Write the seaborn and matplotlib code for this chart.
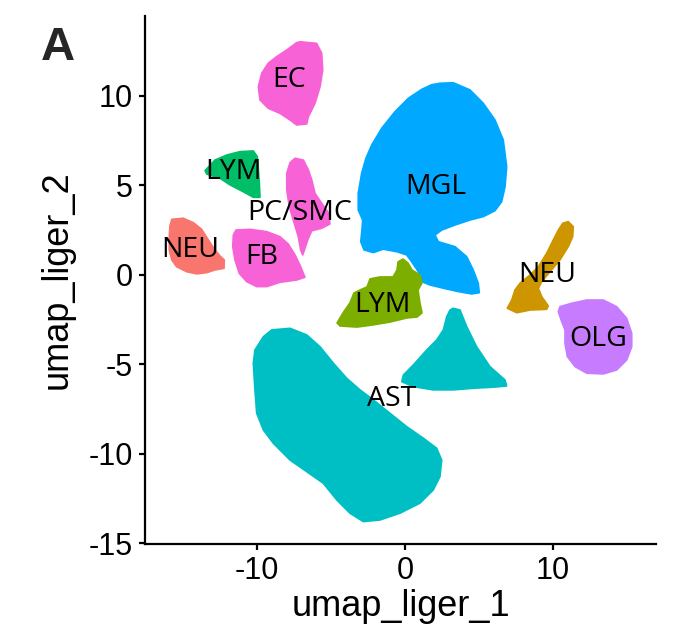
import matplotlib
matplotlib.use("Agg")
import matplotlib.pyplot as plt
import seaborn as sns

# Cluster outlines (umap_liger_1, umap_liger_2)
EC = [(-7.09, 13.03), (-5.97, 12.94), (-5.63, 12.39), (-5.56, 11.45), (-5.74, 10.52),
      (-6.08, 9.59), (-6.53, 8.84), (-6.64, 8.44), (-7.32, 8.38), (-7.77, 8.66),
      (-8.45, 9.03), (-9.24, 9.31), (-9.80, 9.78), (-9.91, 10.52), (-9.68, 11.27),
      (-9.24, 11.83), (-8.67, 12.20), (-7.99, 12.57), (-7.32, 12.98)]

LYM_A = [(-13.51, 5.83), (-12.84, 6.42), (-12.05, 6.70), (-11.15, 6.89), (-10.25, 6.93),
         (-9.98, 6.61), (-9.91, 5.87), (-9.84, 5.12), (-9.80, 4.34), (-10.25, 4.34),
         (-10.93, 4.65), (-11.82, 5.03), (-12.50, 5.40), (-13.40, 5.64)]

PC_SMC = [(-7.43, 6.52), (-6.87, 6.42), (-6.53, 5.87), (-6.30, 5.31), (-6.08, 4.56),
          (-5.63, 4.01), (-5.18, 3.48), (-5.07, 2.85), (-5.63, 2.61), (-6.30, 2.47),
          (-6.53, 2.05), (-6.76, 1.49), (-6.91, 1.12), (-7.05, 1.40), (-7.21, 2.14),
          (-7.55, 3.07), (-7.82, 3.82), (-7.99, 4.75), (-7.99, 5.68), (-7.77, 6.27)]

FB = [(-11.42, 2.51), (-10.47, 2.55), (-9.34, 2.42), (-8.45, 2.14), (-7.89, 1.73),
      (-7.43, 1.12), (-7.05, 0.46), (-6.76, -0.13), (-7.32, -0.28), (-8.45, -0.41),
      (-9.34, -0.65), (-10.02, -0.65), (-10.70, -0.37), (-11.20, 0.09), (-11.49, 0.84),
      (-11.64, 1.58), (-11.60, 2.23)]

NEU_A = [(-15.76, 3.11), (-14.98, 3.17), (-14.30, 2.92), (-13.74, 2.55), (-13.29, 1.96),
         (-12.84, 1.40), (-12.50, 1.06), (-12.21, 0.84), (-12.23, 0.37), (-12.84, 0.28),
         (-13.40, 0.13), (-14.07, 0.06), (-14.75, 0.18), (-15.43, 0.46), (-15.76, 0.84),
         (-15.93, 1.40), (-15.93, 2.14), (-15.88, 2.74)]

MGL = [(2.36, 10.71), (3.26, 10.74), (4.39, 10.34), (5.29, 9.59), (6.08, 8.66),
       (6.64, 7.54), (6.87, 6.05), (6.76, 4.93), (6.53, 4.09), (6.08, 3.59),
       (5.29, 3.26), (4.39, 3.07), (3.38, 2.79), (2.48, 2.51), (2.03, 2.23),
       (2.25, 1.86), (3.38, 1.58), (4.17, 1.02), (4.61, 0.28), (4.95, -0.46),
       (5.02, -0.99), (4.51, -1.06), (3.60, -0.93), (2.59, -0.74), (1.69, -0.56),
       (1.13, -0.37), (0.90, 0.18), (0.45, 0.74), (0.11, 1.12), (-0.56, 1.30),
       (-1.47, 1.44), (-2.14, 1.25), (-2.77, 1.40), (-2.99, 1.86), (-2.91, 2.51),
       (-2.86, 3.07), (-3.16, 3.63), (-3.16, 4.56), (-2.93, 5.68), (-2.64, 6.52),
       (-2.25, 7.26), (-1.57, 8.20), (-0.68, 9.12), (0.22, 9.87), (1.13, 10.37),
       (1.80, 10.63)]

LYM_B = [(-0.47, 0.73), (-0.14, 0.89), (0.20, 0.67), (0.47, 0.28), (1.01, 0.00),
         (1.15, -0.45), (0.88, -0.84), (1.01, -1.56), (1.15, -2.12), (0.81, -2.35),
         (0.14, -2.40), (-1.01, -2.63), (-2.16, -2.79), (-3.24, -2.91), (-4.39, -2.85),
         (-4.59, -2.68), (-4.19, -2.12), (-3.72, -1.56), (-3.45, -1.01), (-3.04, -0.84),
         (-2.57, -0.67), (-2.36, -0.22), (-1.69, -0.11), (-0.81, -0.11), (-0.54, 0.28)]

NEU_B = [(11.03, 2.98), (11.37, 2.70), (11.33, 2.14), (11.03, 1.58), (10.47, 0.84),
         (9.80, 0.18), (9.24, -0.37), (9.01, -0.74), (9.24, -1.21), (9.68, -1.73),
         (9.57, -1.92), (8.45, -1.96), (7.55, -2.11), (6.91, -1.86), (7.21, -1.40),
         (7.43, -0.84), (7.77, -0.46), (8.45, 0.00), (9.01, 0.46), (9.57, 1.21),
         (10.02, 1.96), (10.36, 2.51), (10.66, 2.89)]

OLG = [(10.47, -1.77), (11.26, -1.58), (12.28, -1.40), (13.40, -1.40), (14.30, -1.77),
       (14.98, -2.42), (15.32, -3.26), (15.32, -4.01), (14.98, -4.75), (14.30, -5.31),
       (13.40, -5.53), (12.28, -5.49), (11.49, -5.12), (10.97, -4.56), (10.81, -3.82),
       (10.81, -3.07), (10.59, -2.61), (10.36, -2.05)]

AST_MAIN = [(-9.01, -3.07), (-7.77, -2.98), (-6.64, -3.35), (-5.74, -4.01), (-4.84, -4.93),
            (-3.94, -5.77), (-3.04, -6.42), (-2.14, -6.98), (-1.01, -7.73), (0.11, -8.47),
            (1.24, -9.12), (2.14, -9.68), (2.48, -10.34), (2.36, -11.27), (1.91, -12.01),
            (1.01, -12.75), (-0.34, -13.31), (-1.69, -13.69), (-2.82, -13.78), (-3.72, -13.31),
            (-4.61, -12.57), (-5.52, -11.64), (-6.64, -10.99), (-7.77, -10.34), (-8.90, -9.40),
            (-9.57, -8.66), (-10.02, -7.73), (-10.14, -6.42), (-10.25, -4.93), (-10.14, -4.19),
            (-9.57, -3.45)]

AST_SMALL = [(3.26, -1.86), (3.72, -1.96), (4.17, -2.89), (4.84, -4.01), (5.74, -5.12),
             (6.76, -5.87), (6.87, -6.20), (5.97, -6.27), (4.61, -6.33), (3.26, -6.42),
             (1.91, -6.42), (0.56, -6.24), (-0.22, -5.96), (-0.11, -5.59), (0.56, -5.03),
             (1.47, -4.19), (2.14, -3.63), (2.59, -3.07), (2.82, -2.33), (3.04, -1.96)]

# drawing order follows the reference layering
shapes = [
    (AST_MAIN, "#00BFC4"), (AST_SMALL, "#00BFC4"),
    (MGL, "#00A9FF"), (LYM_B, "#7CAE00"),
    (NEU_B, "#CD9600"), (OLG, "#C77CFF"),
    (EC, "#F763D6"), (PC_SMC, "#F763D6"), (FB, "#F763D6"),
    (LYM_A, "#00BE67"), (NEU_A, "#F8766D"),
]

label_text = ["EC", "LYM", "PC/SMC", "NEU", "FB", "MGL", "LYM", "NEU", "OLG", "AST"]
label_x = [-7.84, -11.62, -7.09, -14.53, -9.66, 2.09, -1.55, 9.59, 13.07, -0.88]
label_y = [10.89, 5.78, 3.49, 1.37, 0.98, 4.94, -1.70, 0.00, -3.55, -6.93]

sns.set_theme(style="ticks")
plt.rcParams["font.family"] = ["Liberation Sans", "DejaVu Sans"]
plt.rcParams["axes.unicode_minus"] = False

fig = plt.figure(figsize=(6.74, 6.44), dpi=100)
ax = fig.add_axes([0.2151, 0.1553, 0.7582, 0.8199])

for outline, color in shapes:
    xs = [p[0] for p in outline]
    ys = [p[1] for p in outline]
    ax.fill(xs, ys, color=color, lw=1.2, ec=color, joinstyle="round")

for t, x, y in zip(label_text, label_x, label_y):
    ax.text(x, y, t, ha="center", va="center", fontsize=20.5,
            family=["Open Sans", "DejaVu Sans"], color="black")

ax.set_xlim(-17.57, 16.96)
ax.set_ylim(-15.03, 14.47)
ax.set_xticks([-10, 0, 10])
ax.set_yticks([-15, -10, -5, 0, 5, 10])
ax.tick_params(labelsize=22, width=1.6, length=4.5, color="black",
               labelcolor="black", pad=4)
ax.set_xlabel("umap_liger_1", fontsize=26, color="black")
ax.set_ylabel("umap_liger_2", fontsize=26, color="black")
ax.xaxis.set_label_coords(0.5, -0.119)
ax.xaxis.label.set_va("center")
ax.yaxis.set_label_coords(-0.172, 0.5)
ax.yaxis.label.set_va("center")
for s in ["left", "bottom"]:
    ax.spines[s].set_linewidth(1.6)
    ax.spines[s].set_color("black")
sns.despine(ax=ax)

fig.text(0.086, 0.925, "A", fontsize=34, fontweight="bold", ha="center", va="center")

fig.savefig("out.png", dpi=100)
